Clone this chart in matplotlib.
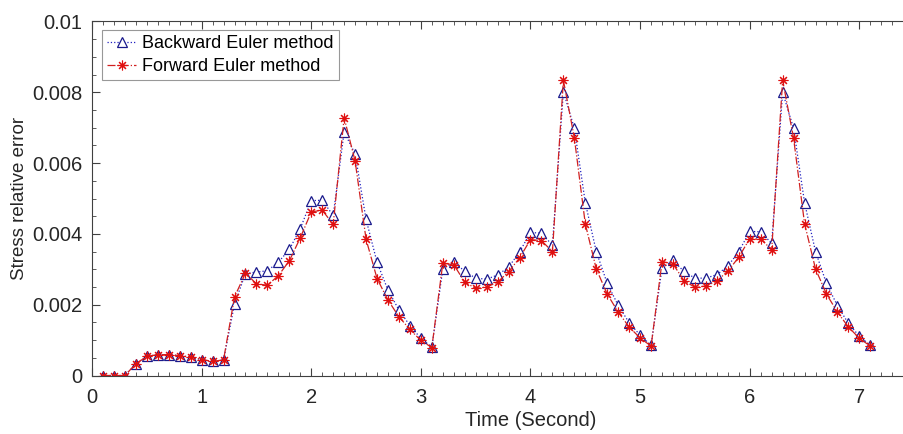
import numpy as np
import matplotlib.pyplot as plt
from matplotlib.ticker import MultipleLocator

plt.rcParams['font.family'] = ['Liberation Sans', 'DejaVu Sans']

# time steps 0.1 .. 7.1
t = np.round(np.arange(1, 72) * 0.1, 1)

backward = [
    0.0, 0.0, 0.0, 0.00033, 0.00054, 0.00059, 0.00059, 0.00056, 0.00052, 0.00045,
    0.00040, 0.00044, 0.00202, 0.00288, 0.00292, 0.00296, 0.00320, 0.00356, 0.00415, 0.00494,
    0.00495, 0.00452, 0.00688, 0.00626, 0.00441, 0.00320, 0.00241, 0.00185, 0.00141, 0.00105,
    0.00080, 0.00301, 0.00322, 0.00294, 0.00275, 0.00272, 0.00284, 0.00306, 0.00349, 0.00404,
    0.00402, 0.00368, 0.00802, 0.00698, 0.00488, 0.00350, 0.00260, 0.00198, 0.00149, 0.00114,
    0.00085, 0.00304, 0.00325, 0.00294, 0.00275, 0.00275, 0.00285, 0.00309, 0.00350, 0.00407,
    0.00406, 0.00373, 0.00800, 0.00698, 0.00488, 0.00350, 0.00260, 0.00197, 0.00147, 0.00111,
    0.00085,
]

forward = [
    0.0, 0.0, 0.0, 0.00033, 0.00054, 0.00059, 0.00059, 0.00056, 0.00052, 0.00045,
    0.00040, 0.00044, 0.00222, 0.00289, 0.00259, 0.00255, 0.00282, 0.00324, 0.00389, 0.00462,
    0.00467, 0.00427, 0.00728, 0.00606, 0.00385, 0.00274, 0.00213, 0.00166, 0.00130, 0.00099,
    0.00079, 0.00317, 0.00313, 0.00264, 0.00246, 0.00250, 0.00264, 0.00293, 0.00332, 0.00384,
    0.00381, 0.00350, 0.00834, 0.00671, 0.00428, 0.00301, 0.00230, 0.00179, 0.00137, 0.00106,
    0.00083, 0.00322, 0.00315, 0.00268, 0.00249, 0.00253, 0.00267, 0.00295, 0.00334, 0.00387,
    0.00386, 0.00355, 0.00834, 0.00670, 0.00429, 0.00301, 0.00230, 0.00179, 0.00137, 0.00105,
    0.00083,
]

x_ticks = [0, 1, 2, 3, 4, 5, 6, 7]
y_ticks = [0, 0.002, 0.004, 0.006, 0.008, 0.01]
y_labels = ['0', '0.002', '0.004', '0.006', '0.008', '0.01']

fig = plt.figure(figsize=(9.04, 4.34), dpi=100)
# axes runs past the right edge, like the cropped original
ax = fig.add_axes([92 / 904, 58.5 / 434, 877 / 904, 354 / 434])

ax.plot(t, backward, color='#2020c0', linestyle=':', linewidth=0.9,
        marker='^', markersize=7, markerfacecolor='white', markeredgecolor='#1a1a8c',
        markeredgewidth=0.9, label='Backward Euler method')
ax.plot(t, forward, color='#d02020', linestyle='-.', linewidth=0.9,
        marker=(8, 2, 0), markersize=7, markeredgecolor='#e01010',
        markeredgewidth=0.8, label='Forward Euler method')

ax.set_xlim(0, 8)
ax.set_ylim(0, 0.01)
ax.set_xticks(x_ticks)
ax.set_yticks(y_ticks)
ax.set_yticklabels(y_labels)
ax.xaxis.set_minor_locator(MultipleLocator(0.1))
ax.yaxis.set_minor_locator(MultipleLocator(0.0005))
ax.tick_params(which='both', direction='in', top=True, right=False,
               color='#404040', labelsize=14.5, labelcolor='#262626')
ax.tick_params(which='major', length=6)
ax.tick_params(which='minor', length=3)
ax.tick_params(axis='x', which='major', pad=9)
ax.tick_params(axis='y', which='major', pad=7)
for s in ax.spines.values():
    s.set_color('#404040')
    s.set_linewidth(0.8)

ax.set_xlabel('Time (Second)', fontsize=14.5, color='#262626', labelpad=3)
ax.set_ylabel('Stress relative error', fontsize=13.5, color='#262626', labelpad=3)

leg = ax.legend(loc='upper left', fontsize=13, frameon=True, fancybox=False,
                edgecolor='#7f7f7f', borderpad=0.3, borderaxespad=0,
                handlelength=1.6, handletextpad=0.3, labelspacing=0.3,
                bbox_to_anchor=(0.0114, 0.976))
leg.get_frame().set_linewidth(0.8)

fig.savefig('out.png', dpi=100)
